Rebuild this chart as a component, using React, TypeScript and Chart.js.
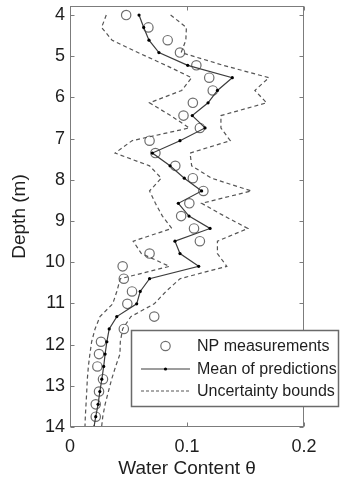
import React, { useEffect, useRef } from 'react';
import { Chart, registerables } from 'chart.js';

Chart.register(...registerables);

// NP measurement depths (m) and water content
const measDepths = [4.0, 4.3, 4.61, 4.91, 5.22, 5.52, 5.83, 6.13, 6.44, 6.74, 7.05, 7.35, 7.66, 7.96, 8.27, 8.57, 8.88, 9.18, 9.49, 9.79, 10.1, 10.4, 10.71, 11.01, 11.32, 11.62, 11.93, 12.23, 12.53, 12.84, 13.14, 13.45, 13.75];
const npMeasurements = [0.048, 0.067, 0.0835, 0.094, 0.108, 0.119, 0.122, 0.105, 0.097, 0.111, 0.068, 0.073, 0.09, 0.105, 0.114, 0.102, 0.095, 0.106, 0.111, 0.068, 0.045, 0.046, 0.053, 0.049, 0.072, 0.046, 0.0265, 0.0248, 0.0234, 0.0282, 0.0248, 0.022, 0.022];

// prediction depths (m)
const predDepths = [4.0, 4.3, 4.61, 4.91, 5.22, 5.52, 5.83, 6.13, 6.44, 6.74, 7.05, 7.35, 7.66, 7.96, 8.27, 8.57, 8.88, 9.18, 9.49, 9.79, 10.1, 10.4, 10.71, 11.01, 11.32, 11.62, 11.93, 12.23, 12.53, 12.84, 13.14, 13.45, 13.75, 14.0];
const meanPredictions = [0.059, 0.063, 0.0675, 0.076, 0.1006, 0.1387, 0.126, 0.118, 0.1045, 0.1154, 0.094, 0.0704, 0.0855, 0.0977, 0.1125, 0.0926, 0.1017, 0.1197, 0.0897, 0.094, 0.11, 0.068, 0.06, 0.057, 0.04, 0.0335, 0.0315, 0.03, 0.0288, 0.0272, 0.0255, 0.024, 0.022, 0.0205];
const lowerBound = [0.031, 0.027, 0.036, 0.058, 0.082, 0.104, 0.0955, 0.068, 0.086, 0.102, 0.053, 0.0385, 0.068, 0.078, 0.068, 0.073, 0.079, 0.087, 0.054, 0.061, 0.085, 0.043, 0.04, 0.0365, 0.0256, 0.0214, 0.0185, 0.017, 0.0157, 0.0148, 0.0143, 0.0137, 0.0131, 0.0128];
const upperBound = [0.086, 0.0995, 0.099, 0.095, 0.131, 0.17, 0.158, 0.168, 0.129, 0.129, 0.137, 0.1026, 0.104, 0.121, 0.155, 0.1125, 0.132, 0.152, 0.126, 0.126, 0.134, 0.094, 0.082, 0.072, 0.052, 0.045, 0.043, 0.0427, 0.039, 0.0356, 0.0328, 0.03, 0.028, 0.027];

const xTicks = [0, 0.1, 0.2];
const xTickLabels = ['0', '0.1', '0.2'];
const yTicks = [4, 5, 6, 7, 8, 9, 10, 11, 12, 13, 14];
const yTickLabels = ['4', '5', '6', '7', '8', '9', '10', '11', '12', '13', '14'];

const legendLabels = ['NP measurements', 'Mean of predictions', 'Uncertainty bounds'];

const FONT = "'Liberation Sans', Arial, Helvetica, sans-serif";
const TEXT = '#1e1e1e';
const AXIS = '#7c7c7c';
const CIRCLE = '#6e6e6e';
const MEAN = '#3c3c3c';
const BOUND = '#555555';

const framePlugin = {
  id: 'frameAndLegend',
  afterDatasetsDraw(chart: any) {
    const { ctx, chartArea: a, scales } = chart;
    ctx.save();
    // axes box
    ctx.strokeStyle = AXIS;
    ctx.lineWidth = 1;
    const L = Math.round(a.left) + 0.5;
    const R = Math.round(a.right) - 0.5;
    const T = Math.round(a.top) + 0.5;
    const B = Math.round(a.bottom) - 0.5;
    ctx.strokeRect(L, T, R - L, B - T);
    ctx.beginPath();
    for (const v of yTicks) {
      const y = Math.round(scales.y.getPixelForValue(v)) + 0.5;
      ctx.moveTo(L, y); ctx.lineTo(L + 4, y);
      ctx.moveTo(R, y); ctx.lineTo(R - 4, y);
    }
    for (const v of xTicks) {
      const x = Math.round(scales.x.getPixelForValue(v)) + 0.5;
      ctx.moveTo(x, B); ctx.lineTo(x, B - 4);
      ctx.moveTo(x, T); ctx.lineTo(x, T + 4);
    }
    ctx.stroke();

    // legend box
    const bx = a.left + 61;
    const by = a.bottom - 97;
    const bw = 207;
    const bh = 76;
    ctx.fillStyle = '#ffffff';
    ctx.fillRect(bx, by, bw, bh);
    ctx.strokeStyle = '#6a6a6a';
    ctx.lineWidth = 1.5;
    ctx.strokeRect(bx + 0.5, by + 0.5, bw, bh);

    const sx0 = bx + 10;
    const sx1 = bx + 59;
    const sc = (sx0 + sx1) / 2;
    const rows = [by + 16, by + 39, by + 61];
    // row 1: circle
    ctx.strokeStyle = CIRCLE;
    ctx.lineWidth = 1.2;
    ctx.beginPath();
    ctx.arc(sc, rows[0], 4.7, 0, Math.PI * 2);
    ctx.stroke();
    // row 2: line with dot
    ctx.strokeStyle = MEAN;
    ctx.lineWidth = 1.2;
    ctx.beginPath();
    ctx.moveTo(sx0, rows[1]); ctx.lineTo(sx1, rows[1]);
    ctx.stroke();
    ctx.fillStyle = '#000';
    ctx.beginPath();
    ctx.arc(sc, rows[1], 1.6, 0, Math.PI * 2);
    ctx.fill();
    // row 3: dashed
    ctx.strokeStyle = BOUND;
    ctx.setLineDash([3, 2]);
    ctx.beginPath();
    ctx.moveTo(sx0, rows[2]); ctx.lineTo(sx1, rows[2]);
    ctx.stroke();
    ctx.setLineDash([]);

    ctx.fillStyle = TEXT;
    ctx.font = `16px ${FONT}`;
    ctx.textBaseline = 'middle';
    ctx.textAlign = 'left';
    legendLabels.forEach((t, i) => ctx.fillText(t, bx + 66, rows[i] + 1));
    ctx.restore();
  },
};

export default function App() {
  const ref = useRef<HTMLCanvasElement | null>(null);
  useEffect(() => {
    if (!ref.current) return;
    const chart = new Chart(ref.current, {
      type: 'scatter',
      data: {
        datasets: [
          {
            label: 'Uncertainty bounds lower',
            data: predDepths.map((d, i) => ({ x: lowerBound[i], y: d })),
            showLine: true,
            borderColor: BOUND,
            borderWidth: 1.2,
            borderDash: [4, 3],
            pointRadius: 0,
            tension: 0,
          },
          {
            label: 'Uncertainty bounds upper',
            data: predDepths.map((d, i) => ({ x: upperBound[i], y: d })),
            showLine: true,
            borderColor: BOUND,
            borderWidth: 1.2,
            borderDash: [4, 3],
            pointRadius: 0,
            tension: 0,
          },
          {
            label: 'Mean of predictions',
            data: predDepths.map((d, i) => ({ x: meanPredictions[i], y: d })),
            showLine: true,
            borderColor: MEAN,
            borderWidth: 1.2,
            pointRadius: 1.6,
            pointBackgroundColor: '#000',
            pointBorderWidth: 0,
            tension: 0,
          },
          {
            label: 'NP measurements',
            data: measDepths.map((d, i) => ({ x: npMeasurements[i], y: d })),
            showLine: false,
            borderColor: CIRCLE,
            backgroundColor: 'rgba(0,0,0,0)',
            pointRadius: 4.7,
            pointBorderWidth: 1.2,
          },
        ],
      },
      options: {
        animation: false,
        responsive: false,
        layout: { padding: { left: 0, right: 37, top: 6, bottom: 0 } },
        plugins: { legend: { display: false }, tooltip: { enabled: false } },
        scales: {
          x: {
            type: 'linear',
            position: 'bottom',
            min: 0,
            max: 0.2,
            grid: { display: false, drawTicks: false },
            border: { display: false },
            afterBuildTicks: (s: any) => { s.ticks = xTicks.map((v) => ({ value: v })); },
            afterFit: (s: any) => { s.height = 56; s.paddingLeft = 0; s.paddingRight = 0; },
            ticks: {
              padding: 9,
              color: TEXT,
              font: { family: FONT, size: 18 },
              maxRotation: 0,
              callback: (v: any) => { const i = xTicks.indexOf(Number(v)); return i >= 0 ? xTickLabels[i] : ''; },
            },
            title: {
              display: true,
              text: 'Water Content θ',
              color: TEXT,
              font: { family: FONT, size: 19 },
              padding: { top: 0, bottom: 3 },
            },
          },
          y: {
            type: 'linear',
            position: 'left',
            reverse: true,
            min: 3.78,
            max: 14,
            grid: { display: false, drawTicks: false },
            border: { display: false },
            afterBuildTicks: (s: any) => { s.ticks = yTicks.map((v) => ({ value: v })); },
            afterFit: (s: any) => { s.width = 70; s.paddingTop = 0; s.paddingBottom = 0; },
            ticks: {
              padding: 5,
              color: TEXT,
              font: { family: FONT, size: 18 },
              callback: (v: any) => { const i = yTicks.indexOf(Number(v)); return i >= 0 ? yTickLabels[i] : ''; },
            },
            title: {
              display: true,
              text: 'Depth (m)',
              color: TEXT,
              font: { family: FONT, size: 19 },
              padding: { top: 8, bottom: 0 },
            },
          },
        },
      },
      plugins: [framePlugin],
    } as any);
    return () => chart.destroy();
  }, []);
  return (
    <div style={{ position: 'absolute', left: 0, top: 0, width: 341, height: 483, background: '#fff' }}>
      <canvas ref={ref} width={341} height={483} style={{ display: 'block' }} />
    </div>
  );
}
